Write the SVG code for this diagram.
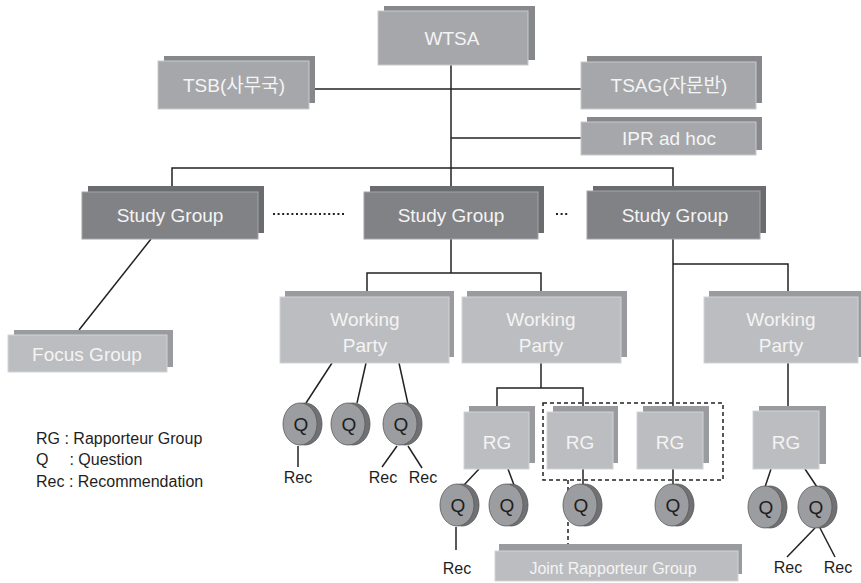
<svg xmlns="http://www.w3.org/2000/svg" width="861" height="583" viewBox="0 0 861 583">
<style>
text{font-family:"Liberation Sans","Noto Sans CJK KR",Arial,sans-serif}
.sh1{fill:#87888b}
.fr1{fill:#a6a7aa;stroke:#c9cacc;stroke-width:1}
.sh2{fill:#9a9b9e}
.fr2{fill:#bcbdc0;stroke:#d2d3d5;stroke-width:1}
.sh3{fill:#6b6c6f}
.fr3{fill:#818285;stroke:#a3a4a6;stroke-width:1}
.lb{fill:#f4f4f4;font-size:19px;text-anchor:middle}
.lbs{fill:#f4f4f4;font-size:16px;text-anchor:middle}
.qb{fill:#707174;stroke:#555;stroke-width:0.8}
.qf{fill:#9c9da0;stroke:#5a5a5a;stroke-width:0.8}
.qt{fill:#1e1e1e;font-size:19px;text-anchor:middle}
.rec{fill:#1e1e1e;font-size:16px;text-anchor:middle}
.leg{fill:#1e1e1e;font-size:16px}
.ln{fill:none;stroke:#222;stroke-width:1.5}
.dash{fill:none;stroke:#222;stroke-width:1.5;stroke-dasharray:4,3}
.dot{fill:none;stroke:#222;stroke-width:2;stroke-dasharray:2,2.6}
</style>

<g id="connectors">
<path class="ln" d="M315,89H581"/>
<path class="ln" d="M451,65V186"/>
<path class="ln" d="M451,138H581"/>
<path class="ln" d="M172,186V168H673V186"/>
<path class="ln" d="M151,239L79,330"/>
<path class="ln" d="M451,239V273"/>
<path class="ln" d="M367,291V273H541V291"/>
<path class="ln" d="M673,239V406"/>
<path class="ln" d="M673,264H788V291"/>
<path class="ln" d="M541,363V388"/>
<path class="ln" d="M497,406V388H583V406"/>
<path class="ln" d="M788,363V406"/>
<path class="ln" d="M332,363L306,403"/>
<path class="ln" d="M366,363L357,403"/>
<path class="ln" d="M399,363L408,404"/>
<path class="ln" d="M298,446V467"/>
<path class="ln" d="M397,446L382,467"/>
<path class="ln" d="M408,446L422,468"/>
<path class="ln" d="M479,469L464,485"/>
<path class="ln" d="M508,469L514,485"/>
<path class="ln" d="M583,469V485"/>
<path class="ln" d="M673,469V485"/>
<path class="ln" d="M456,527V550"/>
<path class="ln" d="M771,469L765,487"/>
<path class="ln" d="M805,469L817,487"/>
<path class="ln" d="M815,528L787,557"/>
<path class="ln" d="M820,528L835,557"/>
<path class="dot" d="M273,214H344"/>
<path class="dot" d="M556,214H569"/>
<rect class="dash" x="543" y="403" width="180" height="77"/>
<path class="dash" d="M568,480V544"/>
</g>

<g id="wtsa">
<rect class="sh1" x="384" y="6" width="151" height="54"/>
<rect class="fr1" x="378" y="11" width="150" height="54"/>
<text class="lb" x="452" y="45">WTSA</text>
</g>
<g id="tsb">
<rect class="sh1" x="164" y="56" width="151" height="47"/>
<rect class="fr1" x="158" y="61" width="151" height="48"/>
<text class="lb" x="234" y="92">TSB(사무국)</text>
</g>
<g id="tsag">
<rect class="sh1" x="587" y="56" width="175" height="47"/>
<rect class="fr1" x="581" y="62" width="175" height="47"/>
<text class="lb" x="669" y="92">TSAG(자문반)</text>
</g>
<g id="ipr">
<rect class="sh1" x="587" y="117" width="175" height="33"/>
<rect class="fr1" x="581" y="122" width="175" height="33"/>
<text class="lb" x="669" y="145">IPR ad hoc</text>
</g>

<g id="sg1">
<rect class="sh3" x="88" y="186" width="176" height="47"/>
<rect class="fr3" x="82" y="192" width="176" height="47"/>
<text class="lb" x="170" y="222">Study Group</text>
</g>
<g id="sg2">
<rect class="sh3" x="370" y="186" width="174" height="47"/>
<rect class="fr3" x="364" y="192" width="174" height="47"/>
<text class="lb" x="451" y="222">Study Group</text>
</g>
<g id="sg3">
<rect class="sh3" x="593" y="186" width="173" height="47"/>
<rect class="fr3" x="587" y="191" width="173" height="48"/>
<text class="lb" x="675" y="222">Study Group</text>
</g>

<g id="focus">
<rect class="sh2" x="14" y="330" width="159" height="37"/>
<rect class="fr2" x="8" y="335" width="159" height="37"/>
<text class="lb" x="87" y="361">Focus Group</text>
</g>

<g id="wp1">
<rect class="sh2" x="285" y="291" width="169" height="66"/>
<rect class="fr2" x="280" y="297" width="169" height="66"/>
<text class="lb" x="365" y="326">Working</text>
<text class="lb" x="365" y="352">Party</text>
</g>
<g id="wp2">
<rect class="sh2" x="467" y="291" width="160" height="66"/>
<rect class="fr2" x="462" y="297" width="159" height="66"/>
<text class="lb" x="541" y="326">Working</text>
<text class="lb" x="541" y="352">Party</text>
</g>
<g id="wp3">
<rect class="sh2" x="709" y="291" width="152" height="66"/>
<rect class="fr2" x="704" y="297" width="154" height="66"/>
<text class="lb" x="781" y="326">Working</text>
<text class="lb" x="781" y="352">Party</text>
</g>

<g id="rg1">
<rect class="sh2" x="469" y="406" width="66" height="57"/>
<rect class="fr2" x="464" y="412" width="65" height="57"/>
<text class="lb" x="497" y="449">RG</text>
</g>
<g id="rg2">
<rect class="sh2" x="553" y="406" width="65" height="57"/>
<rect class="fr2" x="547" y="412" width="66" height="57"/>
<text class="lb" x="580" y="449">RG</text>
</g>
<g id="rg3">
<rect class="sh2" x="643" y="406" width="66" height="57"/>
<rect class="fr2" x="637" y="412" width="66" height="57"/>
<text class="lb" x="670" y="449">RG</text>
</g>
<g id="rg4">
<rect class="sh2" x="759" y="406" width="67" height="58"/>
<rect class="fr2" x="753" y="411" width="66" height="58"/>
<text class="lb" x="786" y="449">RG</text>
</g>

<g id="jrg">
<rect class="sh2" x="499" y="544" width="243" height="30"/>
<rect class="fr2" x="495" y="551" width="243" height="30"/>
<text class="lbs" x="613" y="574">Joint Rapporteur Group</text>
</g>

<g id="q1"><ellipse class="qb" cx="305" cy="424" rx="17" ry="21"/><ellipse class="qf" cx="300" cy="424" rx="17" ry="21"/><text class="qt" x="301" y="431">Q</text></g>
<g id="q2"><ellipse class="qb" cx="353" cy="424" rx="17" ry="21"/><ellipse class="qf" cx="348" cy="424" rx="17" ry="21"/><text class="qt" x="349" y="431">Q</text></g>
<g id="q3"><ellipse class="qb" cx="405" cy="424" rx="17" ry="21"/><ellipse class="qf" cx="400" cy="424" rx="17" ry="21"/><text class="qt" x="401" y="431">Q</text></g>
<g id="q4"><ellipse class="qb" cx="462" cy="505" rx="17" ry="21"/><ellipse class="qf" cx="457" cy="505" rx="17" ry="21"/><text class="qt" x="458" y="512">Q</text></g>
<g id="q5"><ellipse class="qb" cx="511" cy="505" rx="17" ry="21"/><ellipse class="qf" cx="506" cy="505" rx="17" ry="21"/><text class="qt" x="507" y="512">Q</text></g>
<g id="q6"><ellipse class="qb" cx="585" cy="505" rx="17" ry="21"/><ellipse class="qf" cx="580" cy="505" rx="17" ry="21"/><text class="qt" x="581" y="512">Q</text></g>
<g id="q7"><ellipse class="qb" cx="677" cy="505" rx="17" ry="21"/><ellipse class="qf" cx="672" cy="505" rx="17" ry="21"/><text class="qt" x="673" y="512">Q</text></g>
<g id="q8"><ellipse class="qb" cx="770" cy="507" rx="17" ry="21"/><ellipse class="qf" cx="765" cy="507" rx="17" ry="21"/><text class="qt" x="766" y="514">Q</text></g>
<g id="q9"><ellipse class="qb" cx="820" cy="507" rx="17" ry="21"/><ellipse class="qf" cx="815" cy="507" rx="17" ry="21"/><text class="qt" x="816" y="514">Q</text></g>

<g id="recs">
<text class="rec" x="298" y="483">Rec</text>
<text class="rec" x="383" y="483">Rec</text>
<text class="rec" x="423" y="483">Rec</text>
<text class="rec" x="457" y="574">Rec</text>
<text class="rec" x="788" y="573">Rec</text>
<text class="rec" x="838" y="573">Rec</text>
</g>

<g id="legend">
<text class="leg" x="36" y="444">RG : Rapporteur Group</text>
<text class="leg" x="36" y="465">Q<tspan x="65"> : Question</tspan></text>
<text class="leg" x="36" y="487">Rec : Recommendation</text>
</g>
</svg>
